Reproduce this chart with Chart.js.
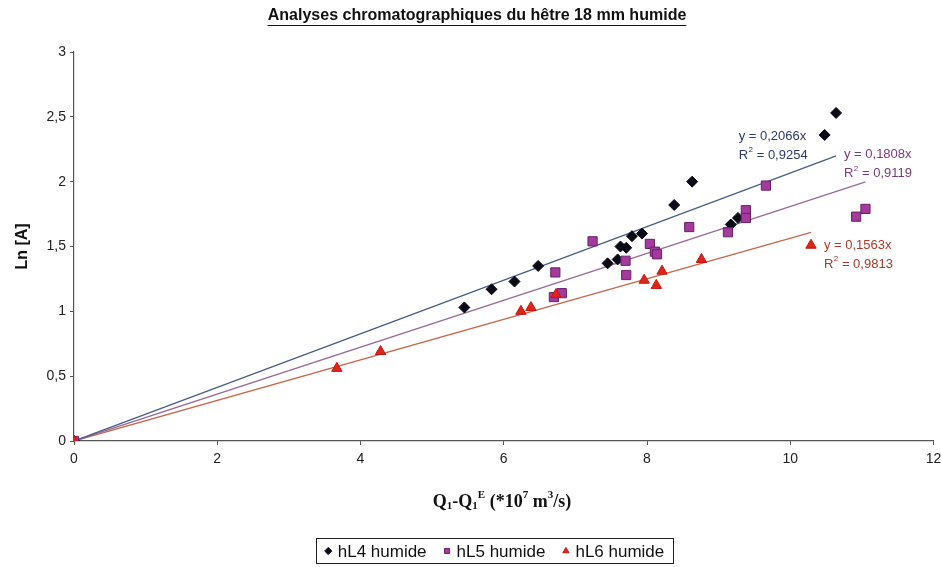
<!DOCTYPE html>
<html>
<head>
<meta charset="utf-8">
<script src="https://cdn.jsdelivr.net/npm/chart.js@4.4.1/dist/chart.umd.min.js"></script>
<style>
  html, body { margin: 0; padding: 0; background: #fff; }
</style>
</head>
<body>
<canvas id="chart" width="941" height="567"></canvas>
<script>
const chartTitle = 'Analyses chromatographiques du hêtre 18 mm humide';
const yTitle = 'Ln [A]';
const seriesNames = ['hL4 humide', 'hL5 humide', 'hL6 humide'];

// values
const hL4x = [0, 5.45, 5.83, 6.15, 6.48, 7.45, 7.59, 7.63, 7.71, 7.79, 7.93, 8.38, 8.63, 9.17, 9.27, 10.48, 10.64];
const hL4y = [0, 1.03, 1.17, 1.23, 1.35, 1.37, 1.40, 1.50, 1.49, 1.58, 1.60, 1.82, 2.00, 1.67, 1.72, 2.36, 2.53];
const hL5x = [0, 6.70, 6.72, 6.81, 7.24, 7.70, 7.71, 8.04, 8.11, 8.14, 8.59, 9.13, 9.38, 9.38, 9.66, 10.92, 11.05];
const hL5y = [0, 1.11, 1.30, 1.14, 1.54, 1.39, 1.28, 1.52, 1.46, 1.44, 1.65, 1.61, 1.78, 1.72, 1.97, 1.73, 1.79];
const hL6x = [0, 3.67, 4.28, 6.24, 6.38, 6.73, 7.96, 8.13, 8.21, 8.76, 10.29];
const hL6y = [0, 0.56, 0.69, 1.00, 1.03, 1.13, 1.24, 1.20, 1.31, 1.40, 1.51];

// trendlines through the origin, as printed on the chart
const slopes = [0.2066, 0.1808, 0.1563];
const slopeText = ['0,2066', '0,1808', '0,1563'];
const r2Text = ['0,9254', '0,9119', '0,9813'];

const markerColors = ['#0b0b18', '#a33a9c', '#e2231a'];
const markerBorders = ['#0b0b18', '#6b1f6b', '#c01810'];
const lineColors = ['#4a5f86', '#9a6a9a', '#c9674a'];
const labelColors = ['#2c3a6c', '#7a3a7a', '#b0382a'];
const pointStyles = ['rectRot', 'rect', 'triangle'];
const pointRadius = [5.5, 6.5, 6];
// where each equation label sits, in data units
const labelAnchors = [[9.28, 2.35], [10.75, 2.21], [10.47, 1.51]];

const xs = [hL4x, hL5x, hL6x];
const ys = [hL4y, hL5y, hL6y];

const pointSets = xs.map((arr, i) => ({
  type: 'scatter',
  label: seriesNames[i],
  data: arr.map((x, j) => ({ x: x, y: ys[i][j] })),
  pointStyle: pointStyles[i],
  pointRadius: pointRadius[i],
  pointHoverRadius: pointRadius[i],
  backgroundColor: markerColors[i],
  borderColor: markerBorders[i],
  borderWidth: 1,
  order: 2 - i
}));

const trendSets = xs.map((arr, i) => {
  const xmax = Math.max(...arr);
  return {
    type: 'line',
    label: 'trend ' + seriesNames[i],
    data: [{ x: 0, y: 0 }, { x: xmax, y: slopes[i] * xmax }],
    borderColor: lineColors[i],
    borderWidth: 1.3,
    pointRadius: 0,
    fill: false,
    order: 5
  };
});

const comma = v => String(v).replace('.', ',');

const decorations = {
  id: 'decorations',
  afterDraw(chart) {
    const ctx = chart.ctx;
    const sx = chart.scales.x, sy = chart.scales.y;
    ctx.save();

    // title, bold and underlined, stretched to the width seen
    const titleFont = s => 'bold ' + s + 'px "Liberation Sans Narrow", "Liberation Sans", Arial, sans-serif';
    ctx.font = titleFont(14);
    const size = 14 * 419 / ctx.measureText(chartTitle).width;
    ctx.font = titleFont(size);
    ctx.fillStyle = '#111';
    ctx.textBaseline = 'middle';
    ctx.textAlign = 'center';
    const tx = 477, ty = 16;
    ctx.fillText(chartTitle, tx, ty);
    const tw = ctx.measureText(chartTitle).width;
    ctx.strokeStyle = '#111';
    ctx.lineWidth = 1;
    ctx.beginPath();
    ctx.moveTo(tx - tw / 2, ty + 9.5);
    ctx.lineTo(tx + tw / 2, ty + 9.5);
    ctx.stroke();

    // equation labels
    ctx.textAlign = 'left';
    labelAnchors.forEach((a, i) => {
      const px = sx.getPixelForValue(a[0]);
      const py = sy.getPixelForValue(a[1]);
      ctx.fillStyle = labelColors[i];
      ctx.font = '13px "Liberation Sans", Arial, sans-serif';
      ctx.fillText('y = ' + slopeText[i] + 'x', px, py);
      const rw = ctx.measureText('R').width;
      ctx.fillText('R', px, py + 19);
      ctx.font = '8px "Liberation Sans", Arial, sans-serif';
      ctx.fillText('2', px + rw + 0.5, py + 14);
      ctx.font = '13px "Liberation Sans", Arial, sans-serif';
      ctx.fillText(' = ' + r2Text[i], px + rw + 5, py + 19);
    });

    // x axis title with sub / superscripts
    const parts = [
      ['Q', 0, 18], ['1', 4, 11], ['-Q', 0, 18], ['1', 4, 11], ['E', -7, 11],
      [' (*10', 0, 18], ['7', -7, 11], [' m', 0, 18], ['3', -7, 11], ['/s)', 0, 18]
    ];
    const fontFor = s => 'bold ' + s + 'px "Liberation Serif", "Times New Roman", serif';
    let total = 0;
    parts.forEach(p => { ctx.font = fontFor(p[2]); total += ctx.measureText(p[0]).width; });
    let cx = 502 - total / 2;
    const cy = 502;
    ctx.fillStyle = '#111';
    parts.forEach(p => {
      ctx.font = fontFor(p[2]);
      ctx.fillText(p[0], cx, cy + p[1]);
      cx += ctx.measureText(p[0]).width;
    });

    // legend in a box
    ctx.font = '17px "Liberation Sans", Arial, sans-serif';
    const gap = 16, mark = 9;
    let lw = 0;
    seriesNames.forEach((n, i) => {
      lw += mark + 5 + ctx.measureText(n).width + (i < seriesNames.length - 1 ? gap : 0);
    });
    const lx = 494 - lw / 2;
    const ly = 551;
    ctx.strokeStyle = '#222';
    ctx.lineWidth = 1;
    ctx.strokeRect(Math.round(lx - 8) + 0.5, ly - 12.5, Math.round(lw + 16), 25);
    let ix = lx;
    seriesNames.forEach((n, i) => {
      ctx.fillStyle = markerColors[i];
      ctx.strokeStyle = markerBorders[i];
      Chart.helpers.drawPoint(ctx, { pointStyle: pointStyles[i], radius: 3.6, borderWidth: 1, rotation: 0 }, ix + mark / 2, ly);
      ix += mark + 5;
      ctx.fillStyle = '#111';
      ctx.fillText(n, ix, ly + 1);
      ix += ctx.measureText(n).width + gap;
    });

    ctx.restore();
  }
};

new Chart(document.getElementById('chart'), {
  data: { datasets: pointSets.concat(trendSets) },
  options: {
    responsive: false,
    animation: false,
    devicePixelRatio: 1,
    layout: { padding: { top: 52, left: 0, right: 6, bottom: 0 } },
    plugins: {
      legend: { display: false },
      title: { display: false },
      tooltip: { enabled: false }
    },
    scales: {
      x: {
        type: 'linear',
        min: 0, max: 12,
        afterFit(scale) { scale.height = 126; scale.paddingRight = 0; },
        ticks: {
          stepSize: 2,
          color: '#222',
          font: { family: '"Liberation Sans", Arial, sans-serif', size: 14 },
          padding: 6,
          callback: comma
        },
        grid: { drawOnChartArea: false, tickLength: 4, color: '#555' },
        border: { color: '#555', width: 1.2 }
      },
      y: {
        type: 'linear',
        min: 0, max: 3,
        afterFit(scale) { scale.width = 74; },
        ticks: {
          stepSize: 0.5,
          color: '#222',
          font: { family: '"Liberation Sans", Arial, sans-serif', size: 14 },
          padding: 4,
          callback: comma
        },
        title: {
          display: true,
          text: yTitle,
          color: '#111',
          font: { family: '"Liberation Sans", Arial, sans-serif', size: 16, weight: 'bold' },
          padding: { top: 13, bottom: 0 }
        },
        grid: { drawOnChartArea: false, tickLength: 4, color: '#555' },
        border: { color: '#555', width: 1.2 }
      }
    }
  },
  plugins: [decorations]
});
</script>
</body>
</html>
